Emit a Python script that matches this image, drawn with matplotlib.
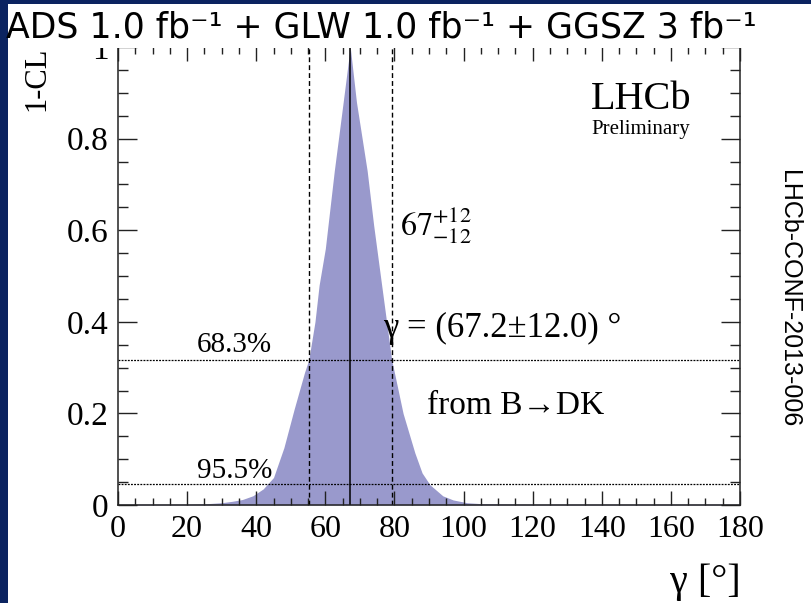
import matplotlib
matplotlib.use("Agg")
import matplotlib.pyplot as plt
from matplotlib.patches import Rectangle
from matplotlib.ticker import MultipleLocator

# 1-CL scan for gamma
gamma = [0, 20, 26, 30, 33, 36, 39, 42, 45, 48, 51, 54, 55.2, 57, 58.2, 60,
         62.6, 65, 67.2, 69, 72.1, 74, 76.3, 79.2, 82.5, 85.9, 88, 90.3, 94,
         97, 101, 105, 120, 180]
one_minus_cl = [0.002, 0.002, 0.003, 0.005, 0.008, 0.012, 0.02, 0.035, 0.06,
                0.125, 0.21, 0.29, 0.317, 0.40, 0.48, 0.56, 0.73, 0.87, 1.0,
                0.88, 0.73, 0.61, 0.48, 0.317, 0.20, 0.114, 0.07, 0.044, 0.02,
                0.011, 0.005, 0.003, 0.002, 0.002]

best = 67.2
interval = [55.2, 79.2]
cl_levels = [0.317, 0.045]
cl_labels = ["68.3%", "95.5%"]

navy = "#0b2360"
fill_col = "#9999cc"
serif = ["Liberation Serif", "DejaVu Serif"]
plt.rcParams["mathtext.fontset"] = "stix"

W, H = 811, 603
fig = plt.figure(figsize=(W / 100, H / 100), dpi=100)
fig.patch.set_facecolor(navy)
# white slide area
fig.add_artist(Rectangle((8 / W, 0), 1, (H - 4) / H, transform=fig.transFigure,
                         facecolor="white", edgecolor="none", zorder=-10))

ax = fig.add_axes([118 / W, 1 - 505 / H, (740 - 118) / W, (505 - 47) / H])
ax.fill_between(gamma, one_minus_cl, 0, color=fill_col, lw=0)
ax.plot([best, best], [0, 1], color="black", lw=1.1)
for g in interval:
    ax.plot([g, g], [0, 1], color="black", lw=1.0, ls=(0, (3.5, 2.2)))
for lev in cl_levels:
    ax.plot([0, 180], [lev, lev], color="black", lw=0.9, ls=(0, (1.5, 1.0)))

ax.set_xlim(0, 180)
ax.set_ylim(0, 1)
ax.xaxis.set_major_locator(MultipleLocator(20))
ax.xaxis.set_minor_locator(MultipleLocator(5))
ax.yaxis.set_minor_locator(MultipleLocator(0.05))
ax.set_yticks([0, 0.2, 0.4, 0.6, 0.8, 1.0])
ax.set_yticklabels(["0", "0.2", "0.4", "0.6", "0.8", "1"])
ax.tick_params(axis="both", which="both", direction="in", top=True, right=True,
               width=1.0, color="#222222", pad=7)
ax.tick_params(axis="x", which="major", length=10)
ax.tick_params(axis="x", which="minor", length=5)
ax.tick_params(axis="y", which="major", length=13.5)
ax.tick_params(axis="y", which="minor", length=7)
for lab in ax.get_xticklabels():
    lab.set_fontfamily(serif)
    lab.set_fontsize(23)
for lab in ax.get_yticklabels():
    lab.set_fontfamily(serif)
    lab.set_fontsize(24)
for sp in ax.spines.values():
    sp.set_linewidth(1.1)
    sp.set_color("#222222")

# texts inside the frame
for lev, txt in zip([0.334, 0.059], cl_labels):
    ax.text(22.9, lev, txt, family=serif, fontsize=21, ha="left", va="baseline")
ax.text(81.6, 0.589, r"$67^{+12}_{-12}$", fontsize=23, ha="left", va="baseline")
ax.text(76.7, 0.367, "γ = (67.2±12.0) °", family=serif, fontsize=25,
        ha="left", va="baseline")
ax.text(89.4, 0.198, "from B→DK", family=serif, fontsize=24,
        ha="left", va="baseline")
ax.text(151.3, 0.864, "LHCb", family=serif, fontsize=29, ha="center", va="baseline")
ax.text(151.3, 0.809, "Preliminary", family=serif, fontsize=15, ha="center",
        va="baseline")

# axis titles
fig.text(37 / W, 1 - 47 / H, "1-CL", family=serif, fontsize=22, rotation=90,
         ha="center", va="top")
fig.text(741 / W, 1 - 582 / H, "γ [°]", family=serif, fontsize=29,
         ha="right", va="center")

# slide title band over the top of the frame
fig.add_artist(Rectangle((8 / W, 1 - 47.5 / H), (766 - 8) / W, 43.5 / H,
                         transform=fig.transFigure, facecolor="white",
                         edgecolor="none", zorder=5))
fig.text(6 / W, 1 - 27 / H,
         "ADS 1.0 fb⁻¹ + GLW 1.0 fb⁻¹ + GGSZ 3 fb⁻¹",
         family="DejaVu Sans", fontsize=25,
         ha="left", va="center", zorder=6)

fig.text(789 / W, 1 - 299 / H, "LHCb-CONF-2013-006", family="Liberation Sans",
         fontsize=18, rotation=-90, ha="center", va="center")

fig.savefig("out.png", dpi=100, facecolor=fig.get_facecolor())
